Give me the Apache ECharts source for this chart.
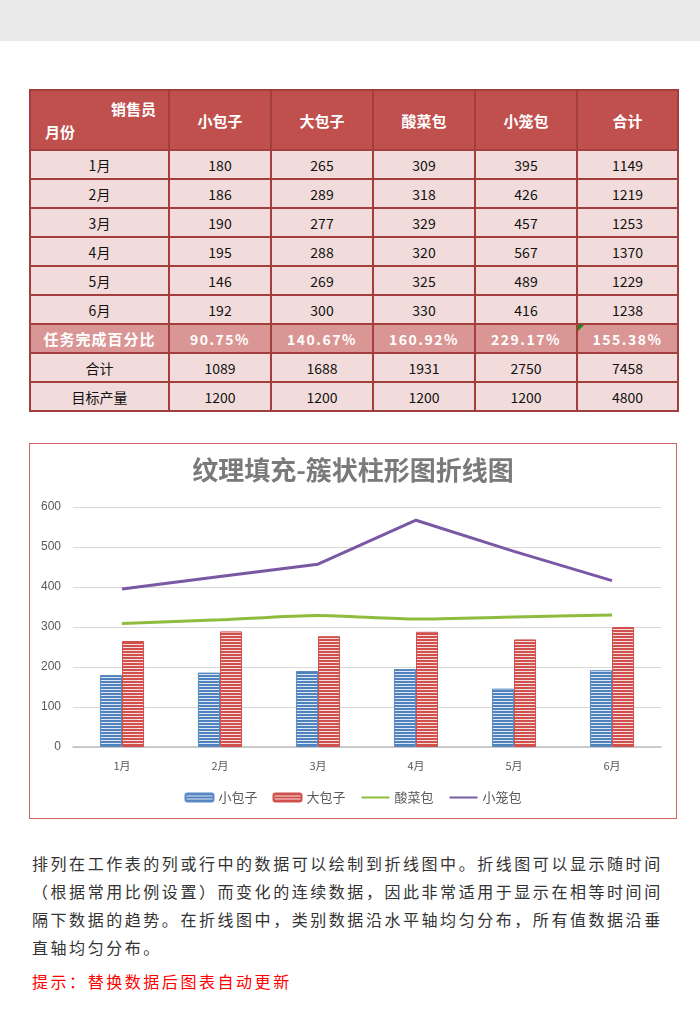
<!DOCTYPE html>
<html>
<head>
<meta charset="utf-8">
<script src="https://cdn.jsdelivr.net/npm/echarts@6/dist/echarts.min.js"></script>
<style>
  html,body{margin:0;padding:0;background:#fff;}
  body{width:700px;height:1030px;position:relative;overflow:hidden;font-family:"Noto Sans CJK SC","Noto Sans",sans-serif;}
  #band{position:absolute;left:0;top:0;width:700px;height:41px;background:#e9e9e9;}
  #tbl{position:absolute;left:29px;top:89px;width:648px;border-collapse:collapse;table-layout:fixed;}
  #tbl td{border:2px solid #a23e3b;text-align:center;padding:0;font-size:14px;color:#111;background:#f2dcdb;height:27px;position:relative;}
  #tbl tr.hd td{background:#c0504d;color:#fff;font-weight:bold;font-size:15px;height:58px;}
  #tbl tr.pct td{background:#da9694;color:#fff;font-weight:bold;letter-spacing:1.5px;}
  #tbl tr.pct td.lbl{font-size:15px;letter-spacing:1px;}
  #tbl td.diag{background:linear-gradient(to top right, transparent calc(50% - 0.8px), #7a2422 50%, transparent calc(50% + 0.8px)), #c0504d;}
  .d1{position:absolute;right:12px;top:7px;}
  .d2{position:absolute;left:14px;bottom:7px;}
  .tri{position:absolute;left:0;top:0;width:0;height:0;border-top:6px solid #1a8a1a;border-right:6px solid transparent;}
  #chart{position:absolute;left:29px;top:443px;width:648px;height:376px;border:1px solid #d0615e;box-sizing:border-box;}
  #desc{position:absolute;left:32px;top:849px;width:660px;font-size:16px;line-height:28px;letter-spacing:2.55px;color:#333;white-space:nowrap;}
  #tip{color:#ff0000;margin-top:6px;}
</style>
</head>
<body>
<div id="band"></div>
<table id="tbl"></table>
<div id="chart"></div>
<div id="desc">
  <div id="lines"></div>
  <div id="tip"></div>
</div>
<script>
// ---- data ----
const months = ['1月','2月','3月','4月','5月','6月'];
const seriesNames = ['小包子','大包子','酸菜包','小笼包'];
const xiaoBaozi = [180,186,190,195,146,192];
const daBaozi = [265,289,277,288,269,300];
const suancaiBao = [309,318,329,320,325,330];
const xiaolongBao = [395,426,457,567,489,416];
const rowTotals = [1149,1219,1253,1370,1229,1238];
const completion = ['90.75%','140.67%','160.92%','229.17%','155.38%'];
const colTotals = [1089,1688,1931,2750,7458];
const targets = [1200,1200,1200,1200,4800];
const headerCorner = ['销售员','月份'];
const totalLabel = '合计';
const rowLabels = ['任务完成百分比','合计','目标产量'];
const titleText = '纹理填充-簇状柱形图折线图';
const yMin = 0, yMax = 600, yStep = 100;
const descLines = [
  '排列在工作表的列或行中的数据可以绘制到折线图中。折线图可以显示随时间',
  '（根据常用比例设置）而变化的连续数据，因此非常适用于显示在相等时间间',
  '隔下数据的趋势。在折线图中，类别数据沿水平轴均匀分布，所有值数据沿垂',
  '直轴均匀分布。'
];
const tipText = '提示：替换数据后图表自动更新';

// ---- table ----
const colW = [139,102,102,102,102,101];
const tbl = document.getElementById('tbl');
let html = '<colgroup>' + colW.map(w=>'<col style="width:'+w+'px">').join('') + '</colgroup>';
html += '<tr class="hd"><td class="diag"><span class="d1">'+headerCorner[0]+'</span><span class="d2">'+headerCorner[1]+'</span></td>';
seriesNames.forEach(n=>{ html += '<td>'+n+'</td>'; });
html += '<td>'+totalLabel+'</td></tr>';
const cols = [xiaoBaozi, daBaozi, suancaiBao, xiaolongBao];
months.forEach((m,i)=>{
  html += '<tr><td>'+m+'</td>';
  cols.forEach(c=>{ html += '<td>'+c[i]+'</td>'; });
  html += '<td>'+rowTotals[i]+'</td></tr>';
});
html += '<tr class="pct"><td class="lbl">'+rowLabels[0]+'</td>';
completion.forEach((p,i)=>{ html += '<td>'+(i===completion.length-1?'<span class="tri"></span>':'')+p+'</td>'; });
html += '</tr>';
html += '<tr><td>'+rowLabels[1]+'</td>' + colTotals.map(v=>'<td>'+v+'</td>').join('') + '</tr>';
html += '<tr><td>'+rowLabels[2]+'</td>' + targets.map(v=>'<td>'+v+'</td>').join('') + '</tr>';
tbl.innerHTML = html;

document.getElementById('lines').innerHTML = descLines.map(l=>'<div>'+l+'</div>').join('');
document.getElementById('tip').textContent = tipText;

// ---- chart ----
function stripe(color, gap){
  const c = document.createElement('canvas');
  c.width = 4; c.height = 3;
  const g = c.getContext('2d');
  g.fillStyle = gap; g.fillRect(0,0,4,3);
  g.fillStyle = color; g.fillRect(0,0,4,2);
  return {image:c, repeat:'repeat'};
}
const chart = echarts.init(document.getElementById('chart'));
chart.setOption({
  animation:false,
  title:{
    text:titleText, left:'center', top:13, padding:0,
    textStyle:{fontSize:26, fontWeight:'bold', color:'#7a7a7a', fontFamily:'Noto Sans CJK SC'}
  },
  legend:{
    data:[
      {name:seriesNames[0]},
      {name:seriesNames[1]},
      {name:seriesNames[2], itemStyle:{color:'rgba(0,0,0,0)', borderWidth:0}},
      {name:seriesNames[3], itemStyle:{color:'rgba(0,0,0,0)', borderWidth:0}}
    ],
    top:342, left:'center',
    itemWidth:28, itemHeight:8, itemGap:15,
    textStyle:{fontSize:13, color:'#595959', fontFamily:'Noto Sans CJK SC'}
  },
  grid:{left:43, top:63, width:588, height:240, containLabel:false},
  xAxis:{
    type:'category', data:months, boundaryGap:true,
    axisLine:{lineStyle:{color:'#bfbfbf', width:1.5}},
    axisTick:{show:false},
    axisLabel:{color:'#595959', fontSize:11, margin:13, fontFamily:'Noto Sans CJK SC'}
  },
  yAxis:{
    type:'value', min:yMin, max:yMax, interval:yStep,
    axisLine:{show:false}, axisTick:{show:false},
    splitLine:{lineStyle:{color:'#d9d9d9', width:1}},
    axisLabel:{color:'#595959', fontSize:12, margin:12}
  },
  series:[
    {name:seriesNames[0], type:'bar', data:xiaoBaozi, barGap:'0%', barCategoryGap:'55%',
      itemStyle:{color:stripe('#4f81bd','#dfe8f4'), borderColor:'#5b8ac6', borderWidth:1}},
    {name:seriesNames[1], type:'bar', data:daBaozi, barGap:'0%', barCategoryGap:'55%',
      itemStyle:{color:stripe('#d0504d','#f7dede'), borderColor:'#d0504d', borderWidth:1}},
    {name:seriesNames[2], type:'line', data:suancaiBao, symbol:'none', smooth:0.25,
      lineStyle:{color:'#8fbc3f', width:3}, itemStyle:{color:'#8fbc3f'}},
    {name:seriesNames[3], type:'line', data:xiaolongBao, symbol:'none',
      lineStyle:{color:'#7b58a6', width:3}, itemStyle:{color:'#7b58a6'}}
  ]
});
</script>
</body>
</html>
